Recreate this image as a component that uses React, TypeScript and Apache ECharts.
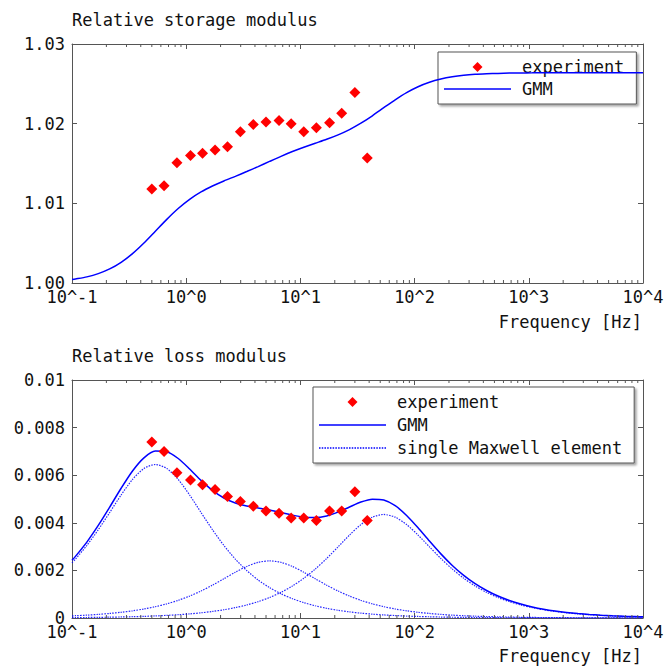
import React, { useEffect, useRef } from "react";
import * as echarts from "echarts";

const FONT = '"DejaVu Sans Mono", monospace';
const TEXT = "#111111";
const FRAME = "#555555";
const RED = "#ff0000";
const BLUE = "#0000ff";

// Measured frequencies [Hz]
const expFreq = [0.5, 0.64, 0.83, 1.09, 1.39, 1.79, 2.3, 2.98, 3.87, 5.0, 6.5, 8.3, 10.7, 13.8, 18, 23, 30, 38.5];
// Relative storage modulus, measured
const expStorage = [
  1.0118, 1.0122, 1.0151, 1.016, 1.0163, 1.0167, 1.0171, 1.019, 1.0199, 1.0202, 1.0204, 1.02, 1.019, 1.0195,
  1.0201, 1.0213, 1.0239, 1.0157,
];
// Relative loss modulus, measured
const expLoss = [
  0.0074, 0.007, 0.0061, 0.0058, 0.0056, 0.0054, 0.0051, 0.0049, 0.0047, 0.0045, 0.0044, 0.0042, 0.0042, 0.0041,
  0.0045, 0.0045, 0.0053, 0.0041,
];

// Frequencies at which the model curves are sampled [Hz]
const curveFreq = [
  0.1, 0.1072, 0.1349, 0.1698, 0.2138, 0.2692, 0.3388, 0.4266, 0.537, 0.6761, 0.8511, 1.0715, 1.349, 1.698, 2.138,
  2.692, 3.388, 4.266, 5.37, 6.761, 8.511, 10.72, 13.49, 16.98, 21.38, 26.92, 33.88, 42.66, 53.7, 67.61, 85.11,
  107.2, 134.9, 169.8, 213.8, 269.2, 338.8, 426.6, 537, 676.1, 851.1, 1072, 1349, 1698, 2138, 2692, 3388, 4266,
  5370, 6761, 8511, 10000,
];

// Generalized Maxwell model: storage modulus
const gmmStorage = [
  1.00043, 1.0005, 1.00077, 1.00118, 1.00177, 1.0026, 1.00369, 1.00502, 1.0065, 1.00799, 1.00935, 1.0105, 1.01143,
  1.01217, 1.01281, 1.01339, 1.01399, 1.01461, 1.01526, 1.0159, 1.0165, 1.01704, 1.01754, 1.01804, 1.0186, 1.01926,
  1.02006, 1.02099, 1.022, 1.023, 1.0239, 1.02464, 1.0252, 1.0256, 1.02588, 1.02607, 1.02619, 1.02626, 1.02631,
  1.02635, 1.02637, 1.02638, 1.02639, 1.02639, 1.0264, 1.0264, 1.0264, 1.0264, 1.0264, 1.0264, 1.0264, 1.0264,
];

// Generalized Maxwell model: loss modulus
const gmmLoss = [
  0.002427, 0.002589, 0.00319, 0.003889, 0.004658, 0.005452, 0.006179, 0.00673, 0.007012, 0.006987, 0.006702,
  0.006262, 0.005784, 0.005364, 0.005043, 0.004834, 0.004707, 0.004623, 0.004538, 0.004434, 0.004322, 0.004238,
  0.004218, 0.004289, 0.004447, 0.004663, 0.004872, 0.004994, 0.004954, 0.004718, 0.004309, 0.00379, 0.003231,
  0.002694, 0.002208, 0.001792, 0.001441, 0.001155, 0.000922, 0.000735, 0.000586, 0.000466, 0.00037, 0.000294,
  0.000233, 0.000185, 0.000148, 0.000118, 0.000093, 0.000074, 0.000059, 0.00005,
];

// Loss contribution of each single Maxwell element
const maxwell1 = [
  0.002322, 0.002476, 0.003048, 0.003709, 0.004432, 0.005168, 0.005822, 0.006282, 0.00645, 0.006282, 0.005822,
  0.005168, 0.004432, 0.003709, 0.003048, 0.002476, 0.001994, 0.001598, 0.001277, 0.001018, 0.000811, 0.000645,
  0.000513, 0.000408, 0.000324, 0.000257, 0.000204, 0.000162, 0.000129, 0.000102, 0.0000814, 0.0000646, 0.0000513,
  0.0000408, 0.0000324, 0.0000258, 0.0000204, 0.0000163, 0.0000129, 0.0000102, 0.0000081, 0.0000065, 0.0000051,
  0.0000041, 0.0000032, 0.0000026, 0.000002, 0.0000016, 0.0000013, 0.000001, 0.0000008, 0.0000007,
];
const maxwell2 = [
  0.0000894, 0.0000957, 0.00012, 0.000152, 0.000191, 0.00024, 0.000302, 0.000379, 0.000475, 0.000595, 0.000742,
  0.000921, 0.001134, 0.00138, 0.001649, 0.001923, 0.002166, 0.002338, 0.0024, 0.002338, 0.002166, 0.001923,
  0.001649, 0.00138, 0.001134, 0.000921, 0.000742, 0.000595, 0.000475, 0.000379, 0.000302, 0.00024, 0.000191,
  0.000152, 0.00012, 0.0000957, 0.000076, 0.0000604, 0.000048, 0.0000381, 0.0000303, 0.000024, 0.0000191,
  0.0000152, 0.000012, 0.0000096, 0.0000076, 0.000006, 0.0000048, 0.0000038, 0.000003, 0.0000026,
];
const maxwell3 = [
  0.0000162, 0.0000174, 0.0000218, 0.0000275, 0.0000346, 0.0000436, 0.0000549, 0.0000691, 0.000087, 0.00011,
  0.000138, 0.000173, 0.000218, 0.000275, 0.000346, 0.000435, 0.000547, 0.000687, 0.000861, 0.001078, 0.001345,
  0.00167, 0.002056, 0.002501, 0.002989, 0.003485, 0.003926, 0.004237, 0.00435, 0.004237, 0.003926, 0.003485,
  0.002989, 0.002501, 0.002056, 0.00167, 0.001345, 0.001078, 0.000861, 0.000687, 0.000547, 0.000435, 0.000346,
  0.000275, 0.000218, 0.000173, 0.000138, 0.00011, 0.000087, 0.0000691, 0.0000549, 0.0000467,
];

// Axis ranges
const freqMin = 0.1;
const freqMax = 10000;
const storageMin = 1.0;
const storageMax = 1.03;
const storageStep = 0.01;
const lossMin = 0;
const lossMax = 0.01;
const lossStep = 0.002;

// Minor log ticks: 2..9 within each decade
const minorTicks: number[] = [];
for (let e = -1; e <= 3; e++) {
  for (let m = 2; m <= 9; m++) minorTicks.push(Number((m * Math.pow(10, e)).toPrecision(3)));
}

// Legend icons as paths so that their aspect ratio is kept inside the icon box
const diamondIcon = "path://M5,0L10,5L5,10L0,5Z";
const solidIcon = "path://M0,0h67v1.6h-67z";
const dottedIcon =
  "path://" +
  Array.from({ length: 25 }, (_, i) => `M${(i * 2.7).toFixed(1)},0h1.5v1.3h-1.5z`).join(" ");

const zip = (xs: number[], ys: number[]) => xs.map((x, i) => [x, ys[i]]);

const textStyle = { fontFamily: FONT, fontSize: 17, color: TEXT };

function xAxes(gridIndex: number) {
  const base = {
    type: "log",
    logBase: 10,
    gridIndex,
    min: freqMin,
    max: freqMax,
    splitNumber: 5,
    splitLine: { show: false },
    minorTick: { show: false },
    axisLine: { show: true, onZero: false, lineStyle: { color: FRAME, width: 1 } },
    axisTick: { show: true, inside: true, length: 5, lineStyle: { color: FRAME, width: 1 } },
  };
  return [
    {
      ...base,
      position: "bottom",
      axisLabel: {
        ...textStyle,
        margin: 7,
        lineHeight: 14,
        showMinLabel: true,
        showMaxLabel: true,
        formatter: (v: number) => "10^" + Math.round(Math.log10(v)),
      },
    },
    { ...base, position: "top", axisLabel: { show: false } },
  ];
}

function yAxes(gridIndex: number, min: number, max: number, interval: number, fmt: (v: number) => string) {
  const base = {
    type: "value",
    gridIndex,
    min,
    max,
    interval,
    splitLine: { show: false },
    axisLine: { show: true, onZero: false, lineStyle: { color: FRAME, width: 1 } },
    axisTick: { show: true, inside: true, length: 5, lineStyle: { color: FRAME, width: 1 } },
  };
  return [
    { ...base, position: "left", axisLabel: { ...textStyle, margin: 7, lineHeight: 14, formatter: fmt } },
    { ...base, position: "right", axisLabel: { show: false } },
  ];
}

function minorTickSeries(xi: number, yi: number, yMin: number, yMax: number) {
  return {
    type: "custom",
    xAxisIndex: xi,
    yAxisIndex: yi,
    silent: true,
    clip: false,
    z: 6,
    data: minorTicks.map((f) => [f, yMin]),
    encode: { x: 0, y: 1 },
    renderItem: (_params: any, api: any) => {
      const f = api.value(0);
      const b = api.coord([f, yMin]);
      const t = api.coord([f, yMax]);
      const style = { stroke: FRAME, lineWidth: 1 };
      return {
        type: "group",
        children: [
          { type: "line", shape: { x1: b[0], y1: b[1], x2: b[0], y2: b[1] - 3 }, style },
          { type: "line", shape: { x1: t[0], y1: t[1], x2: t[0], y2: t[1] + 3 }, style },
        ],
      };
    },
  };
}

const legendBase = {
  orient: "vertical",
  itemWidth: 67,
  itemHeight: 10,
  symbolKeepAspect: true,
  padding: [6, 12, 6, 6],
  backgroundColor: "#ffffff",
  borderColor: FRAME,
  borderWidth: 1,
  borderRadius: 0,
  shadowColor: "rgba(0,0,0,0.35)",
  shadowBlur: 2,
  shadowOffsetX: 2,
  shadowOffsetY: 2,
  selectedMode: false,
  textStyle: { ...textStyle, lineHeight: 18, padding: [0, 0, 0, 6] },
};

const legendExperiment = { name: "experiment", icon: diamondIcon };
const legendGmm = { name: "GMM", icon: solidIcon };
const legendMaxwell = { name: "single Maxwell element", icon: dottedIcon };

function buildOption() {
  const scatterStyle = {
    type: "scatter",
    symbol: "diamond",
    symbolSize: 11,
    itemStyle: { color: RED, opacity: 1 },
    z: 5,
  };
  const gmmStyle = {
    type: "line",
    name: "GMM",
    symbol: "none",
    showSymbol: false,
    smooth: 0.25,
    lineStyle: { color: BLUE, width: 1.5 },
    itemStyle: { color: BLUE },
    z: 4,
  };
  const maxwellStyle = {
    type: "line",
    name: "single Maxwell element",
    symbol: "none",
    showSymbol: false,
    smooth: 0.25,
    lineStyle: { color: BLUE, width: 1.2, type: [1.5, 1.2], opacity: 0.85 },
    itemStyle: { color: BLUE },
    xAxisIndex: 2,
    yAxisIndex: 2,
    z: 3,
  };
  return {
    animation: false,
    backgroundColor: "#ffffff",
    textStyle: { fontFamily: FONT },
    grid: [
      { left: 72, right: 24, top: 44, height: 239 },
      { left: 72, right: 24, top: 380, height: 238 },
    ],
    xAxis: [...xAxes(0), ...xAxes(1)],
    yAxis: [
      ...yAxes(0, storageMin, storageMax, storageStep, (v) => v.toFixed(2)),
      ...yAxes(1, lossMin, lossMax, lossStep, (v) => (v === 0 ? "0" : String(Number(v.toFixed(3))))),
    ],
    legend: [
      { ...legendBase, left: 438, top: 52, itemGap: 4, data: [legendExperiment, legendGmm] },
      { ...legendBase, left: 313, top: 387, itemGap: 5, data: [legendExperiment, legendGmm, legendMaxwell] },
    ],
    graphic: [
      { type: "text", x: 72, y: 20, style: { text: "Relative storage modulus", font: `17px ${FONT}`, fill: TEXT, verticalAlign: "middle" } },
      { type: "text", x: 642, y: 321.5, style: { text: "Frequency [Hz]", font: `17px ${FONT}`, fill: TEXT, align: "right", verticalAlign: "middle" } },
      { type: "text", x: 72, y: 356, style: { text: "Relative loss modulus", font: `17px ${FONT}`, fill: TEXT, verticalAlign: "middle" } },
      { type: "text", x: 642, y: 656.3, style: { text: "Frequency [Hz]", font: `17px ${FONT}`, fill: TEXT, align: "right", verticalAlign: "middle" } },
    ],
    series: [
      // storage modulus panel
      { ...scatterStyle, name: "experiment", xAxisIndex: 0, yAxisIndex: 0, data: zip(expFreq, expStorage) },
      { ...gmmStyle, xAxisIndex: 0, yAxisIndex: 0, data: zip(curveFreq, gmmStorage) },
      minorTickSeries(0, 0, storageMin, storageMax),
      // loss modulus panel
      { ...scatterStyle, name: "experiment", xAxisIndex: 2, yAxisIndex: 2, data: zip(expFreq, expLoss) },
      { ...gmmStyle, xAxisIndex: 2, yAxisIndex: 2, data: zip(curveFreq, gmmLoss) },
      { ...maxwellStyle, data: zip(curveFreq, maxwell1) },
      { ...maxwellStyle, data: zip(curveFreq, maxwell2) },
      { ...maxwellStyle, data: zip(curveFreq, maxwell3) },
      minorTickSeries(2, 2, lossMin, lossMax),
    ],
  };
}

export default function App() {
  const ref = useRef<HTMLDivElement>(null);
  useEffect(() => {
    if (!ref.current) return;
    const chart = echarts.init(ref.current, undefined, { renderer: "svg" });
    chart.setOption(buildOption() as any);
    return () => chart.dispose();
  }, []);
  return (
    <div
      ref={ref}
      style={{ position: "fixed", left: 0, top: 0, width: 667, height: 666, background: "#ffffff" }}
    />
  );
}
